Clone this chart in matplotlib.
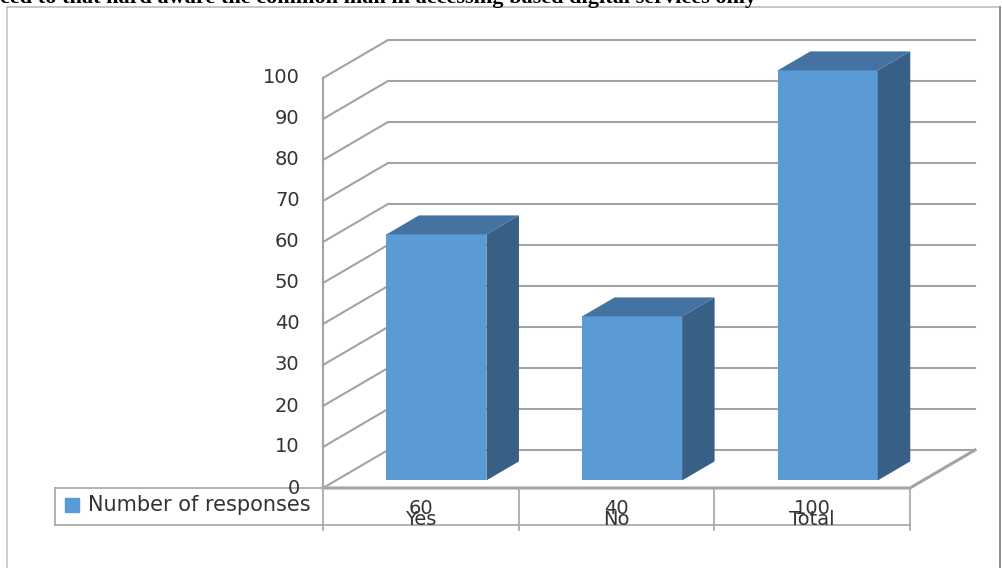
import matplotlib.pyplot as plt
from matplotlib.patches import Polygon, Rectangle

# survey answers
categories = ["Yes", "No", "Total"]
responses = [60, 40, 100]
series_name = "Number of responses"
y_ticks = list(range(0, 101, 10))

FRONT = "#5B9BD5"
SIDE = "#385F86"
TOP = "#4472A1"
GRID = "#A3A3A3"
TEXT = "#333333"

W, H = 1003, 568
fig = plt.figure(figsize=(W / 100, H / 100), dpi=100)
fig.patch.set_facecolor("white")

# full-figure overlay in pixel units for the outer frame
bg = fig.add_axes([0, 0, 1, 1], zorder=0)
bg.set_xlim(0, W)
bg.set_ylim(H, 0)
bg.axis("off")
bg.plot([7, 7], [7, H], color="#C8C8C8", lw=1.2)
bg.plot([7, 1000], [7, 7], color="#BDBDBD", lw=1.2)
bg.plot([1000, 1000], [7, H], color="#8C8C8C", lw=1.4)

# caption line of the page, mostly cut off by the top edge
fig.text(0.0, 1.0 - 2.5 / H,
         "ced to that hard aware the common man in accessing based digital services only",
         family="Liberation Serif", fontweight="bold", fontsize=16, va="baseline")


def px_box(x0, y0, x1, y1):
    return [x0 / W, 1 - y1 / H, (x1 - x0) / W, (y1 - y0) / H]


ax = fig.add_axes(px_box(323, 78, 910, 488), zorder=1)
n = len(categories)
ax.set_xlim(0, n)
ax.set_ylim(0, 100)
ax.axis("off")

# depth of the 3d box, in data units
DX = 65 / 587 * n
DZ = 38 / 410 * 100

# walls and gridlines
for v in y_ticks:
    ax.plot([0, DX, n + DX], [v, v + DZ, v + DZ], color=GRID, lw=1.5,
            clip_on=False, zorder=1)
    ax.text(-0.12, v, str(v), ha="right", va="center", fontsize=14,
            color=TEXT, clip_on=False, zorder=5)
ax.plot([0, 0], [0, 100], color=GRID, lw=1.5, clip_on=False, zorder=1)
ax.plot([0, n, n + DX], [0, 0, DZ], color=GRID, lw=2.2, clip_on=False, zorder=1)

# bars
bw = 100 / 587 * n
f0, d = 0.24, 0.5
for i, v in enumerate(responses):
    x0 = i + 0.5 - bw / 2 + f0 * DX
    y0 = 0.2 * DZ
    ax.add_patch(Rectangle((x0, y0), bw, v, facecolor=FRONT, edgecolor="none",
                           clip_on=False, zorder=3))
    ax.add_patch(Polygon([(x0 + bw, y0), (x0 + bw + d * DX, y0 + d * DZ),
                          (x0 + bw + d * DX, y0 + v + d * DZ), (x0 + bw, y0 + v)],
                         closed=True, facecolor=SIDE, edgecolor="none",
                         clip_on=False, zorder=3))
    ax.add_patch(Polygon([(x0, y0 + v), (x0 + bw, y0 + v),
                          (x0 + bw + d * DX, y0 + v + d * DZ),
                          (x0 + d * DX, y0 + v + d * DZ)],
                         closed=True, facecolor=TOP, edgecolor="none",
                         clip_on=False, zorder=3))

# data table with legend key below the chart
tl = -1.37
tb = -9.0
tick_end = -10.3
tab_kw = dict(color="#ABABAB", lw=1.3, clip_on=False, zorder=2)
ax.plot([tl, 0], [0, 0], **tab_kw)
ax.plot([tl, n], [tb, tb], **tab_kw)
ax.plot([tl, tl], [0, tb], **tab_kw)
for k in range(n + 1):
    ax.plot([k, k], [0, tick_end], **tab_kw)

ax.plot([-1.285], [-4.15], marker="s", markersize=9.5, color=FRONT,
        clip_on=False, zorder=4)
ax.text(-1.20, -4.15, series_name, ha="left", va="center", fontsize=15,
        color=TEXT, clip_on=False, zorder=4)
for i, (cat, v) in enumerate(zip(categories, responses)):
    ax.text(i + 0.5, -4.9, str(v), ha="center", va="center", fontsize=14,
            color=TEXT, clip_on=False, zorder=4)
    ax.text(i + 0.5, -7.6, cat, ha="center", va="center", fontsize=14,
            color=TEXT, clip_on=False, zorder=4)

fig.savefig("out.png", dpi=100)
